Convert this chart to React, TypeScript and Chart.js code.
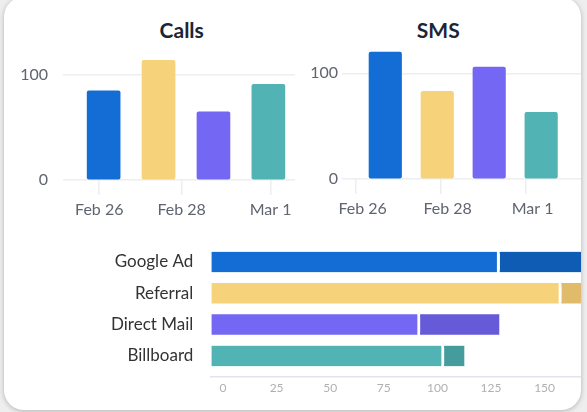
import React, { useEffect, useRef } from "react";
import { Chart, registerables } from "chart.js";

Chart.register(...registerables);

// ---- data ----
const dateLabels = ["Feb 26", "Feb 28", "Mar 1"];
const callsValues = [85, 114, 65, 91];
const smsValues = [120, 83, 106, 63];
const sources = ["Google Ad", "Referral", "Direct Mail", "Billboard"];
const firstPart = [134.6, 163.4, 97.5, 108.7];
const secondPart = [45, 22, 38.2, 10.7];
const valueTicks = [0, 100];

// ---- styles ----
const FONT = "Lato, 'Source Sans Pro', 'Noto Sans', sans-serif";
const barColors = ["#136dd5", "#f6d37a", "#7467f3", "#52b3b4"];
const darkColors = ["#0f5cb5", "#dfbb6b", "#665ad9", "#449c9d"];
const GRID = "#eceef2";
const TICK_TEXT = "#5f6470";

const noPad = (s: any) => {
  s.paddingTop = 0;
  s.paddingBottom = 0;
  s.paddingLeft = 0;
  s.paddingRight = 0;
};

type SmallCfg = {
  values: number[];
  xMin: number;
  xMax: number;
  tickAt: number[];
  labelOffset: number;
  yWidth: number;
  labelPad: number;
  padTop: number;
  padRight: number;
  barThickness: number;
};

function SmallBars({ cfg, width, height, style }: { cfg: SmallCfg; width: number; height: number; style: React.CSSProperties }) {
  const ref = useRef<HTMLCanvasElement | null>(null);
  useEffect(() => {
    if (!ref.current) return;
    const chart = new Chart(ref.current, {
      type: "bar",
      data: {
        datasets: [
          {
            data: cfg.values.map((v, i) => ({ x: i, y: v })),
            backgroundColor: barColors,
            borderRadius: 2,
            borderSkipped: false,
            barThickness: cfg.barThickness,
          },
        ],
      },
      options: {
        responsive: false,
        animation: false,
        events: [],
        layout: { padding: { top: cfg.padTop, right: cfg.padRight, left: 0, bottom: 0 } },
        plugins: { legend: { display: false }, tooltip: { enabled: false }, title: { display: false } },
        scales: {
          x: {
            type: "linear",
            offset: false,
            min: cfg.xMin,
            max: cfg.xMax,
            afterBuildTicks: (s: any) => {
              s.ticks = cfg.tickAt.map((v) => ({ value: v }));
            },
            afterFit: (s: any) => {
              s.height = 45;
              noPad(s);
            },
            ticks: {
              autoSkip: false,
              maxRotation: 0,
              padding: 5,
              labelOffset: cfg.labelOffset,
              color: TICK_TEXT,
              font: { family: FONT, size: 16 },
              callback: (_v: any, i: number) => dateLabels[i],
            },
            grid: { offset: false, drawOnChartArea: false, drawTicks: true, tickLength: 15, color: GRID, lineWidth: 1.5 },
            border: { display: false },
          },
          y: {
            type: "linear",
            min: 0,
            max: 125,
            afterBuildTicks: (s: any) => {
              s.ticks = valueTicks.map((v) => ({ value: v }));
            },
            afterFit: (s: any) => {
              s.width = cfg.yWidth;
              noPad(s);
            },
            ticks: {
              padding: cfg.labelPad,
              color: TICK_TEXT,
              font: { family: FONT, size: 16 },
            },
            grid: { drawTicks: false, color: GRID, lineWidth: 1.5 },
            border: { display: false },
          },
        },
      } as any,
    });
    return () => chart.destroy();
  }, []);
  return <canvas ref={ref} width={width} height={height} style={{ position: "absolute", width, height, ...style }} />;
}

function SourceBars({ width, height, style }: { width: number; height: number; style: React.CSSProperties }) {
  const ref = useRef<HTMLCanvasElement | null>(null);
  useEffect(() => {
    if (!ref.current) return;
    const radius = { topLeft: 3, topRight: 3, bottomLeft: 3, bottomRight: 3 };
    const chart = new Chart(ref.current, {
      type: "bar",
      data: {
        datasets: [
          {
            data: firstPart.map((v, i) => ({ x: v, y: i })),
            backgroundColor: barColors,
            borderColor: "#ffffff",
            borderWidth: { right: 3 },
            borderRadius: radius,
            barThickness: 20.5,
          },
          {
            data: secondPart.map((v, i) => ({ x: v, y: i })),
            backgroundColor: darkColors,
            borderColor: "#ffffff",
            borderWidth: { right: 3 },
            borderRadius: radius,
            barThickness: 20.5,
          },
        ],
      },
      options: {
        indexAxis: "y",
        responsive: false,
        animation: false,
        events: [],
        layout: { padding: { top: 6.35, right: 16.6, left: 0, bottom: 0 } },
        plugins: { legend: { display: false }, tooltip: { enabled: false }, title: { display: false } },
        scales: {
          x: {
            type: "linear",
            stacked: true,
            offset: false,
            min: 0,
            max: 225,
            afterFit: (s: any) => {
              s.height = 22.8;
              noPad(s);
            },
            ticks: {
              stepSize: 25,
              padding: 4,
              labelOffset: 12,
              maxRotation: 0,
              autoSkip: false,
              color: "#b0b0b0",
              font: { family: FONT, size: 12 },
            },
            grid: { display: true, offset: false, drawOnChartArea: false, drawTicks: false, color: "#e1e4ec" },
            border: { display: true, color: "#e1e4ec", width: 1.5 },
          },
          y: {
            type: "linear",
            stacked: true,
            offset: false,
            reverse: true,
            min: -0.5,
            max: 3.68,
            afterBuildTicks: (s: any) => {
              s.ticks = sources.map((_, i) => ({ value: i }));
            },
            afterFit: (s: any) => {
              s.width = 201;
              noPad(s);
            },
            ticks: {
              padding: 17.7,
              autoSkip: false,
              color: "#333333",
              font: { family: FONT, size: 17, weight: "400" },
              callback: (v: any) => sources[v],
            },
            grid: { display: false, drawTicks: false, offset: false },
            border: { display: false },
          },
        },
      } as any,
    });
    return () => chart.destroy();
  }, []);
  return <canvas ref={ref} width={width} height={height} style={{ position: "absolute", width, height, ...style }} />;
}

// card sits at page (4, -3)
const CX = 4;
const CY = -3;

const callsCfg: SmallCfg = {
  values: callsValues,
  xMin: -0.74,
  xMax: 3.485,
  tickAt: [-0.08, 1.42, 3.04],
  labelOffset: 0,
  yWidth: 53,
  labelPad: 15,
  padTop: 8.75,
  padRight: 5,
  barThickness: 33,
};

const smsCfg: SmallCfg = {
  values: smsValues,
  xMin: -0.833,
  xMax: 3.94,
  tickAt: [-0.57, 1.065, 2.7],
  labelOffset: 7,
  yWidth: 42,
  labelPad: 4,
  padTop: 6.9,
  padRight: 10,
  barThickness: 32.5,
};

const titleStyle: React.CSSProperties = {
  position: "absolute",
  width: 120,
  textAlign: "center",
  fontFamily: FONT,
  fontWeight: 700,
  fontSize: 21,
  lineHeight: "24px",
  color: "#1c2537",
};

export default function App() {
  return (
    <div style={{ position: "fixed", inset: 0, background: "#eeeeee", overflow: "hidden" }}>
      <div
        style={{
          position: "absolute",
          left: CX,
          top: CY,
          width: 577,
          height: 413,
          borderRadius: 20,
          background: "#ffffff",
          boxShadow: "0 1px 5px rgba(0,0,0,0.25)",
          overflow: "hidden",
        }}
      >
        <div style={{ ...titleStyle, left: 181.7 - 60 - CX, top: 18 - CY }}>Calls</div>
        <div style={{ ...titleStyle, left: 438.3 - 60 - CX, top: 18 - CY }}>SMS</div>
        <SmallBars cfg={callsCfg} width={290} height={185} style={{ left: 10 - CX, top: 40 - CY }} />
        <SmallBars cfg={smsCfg} width={300} height={184} style={{ left: 300 - CX, top: 40 - CY }} />
        <SourceBars width={700} height={160} style={{ left: 10 - CX, top: 240 - CY }} />
      </div>
    </div>
  );
}
